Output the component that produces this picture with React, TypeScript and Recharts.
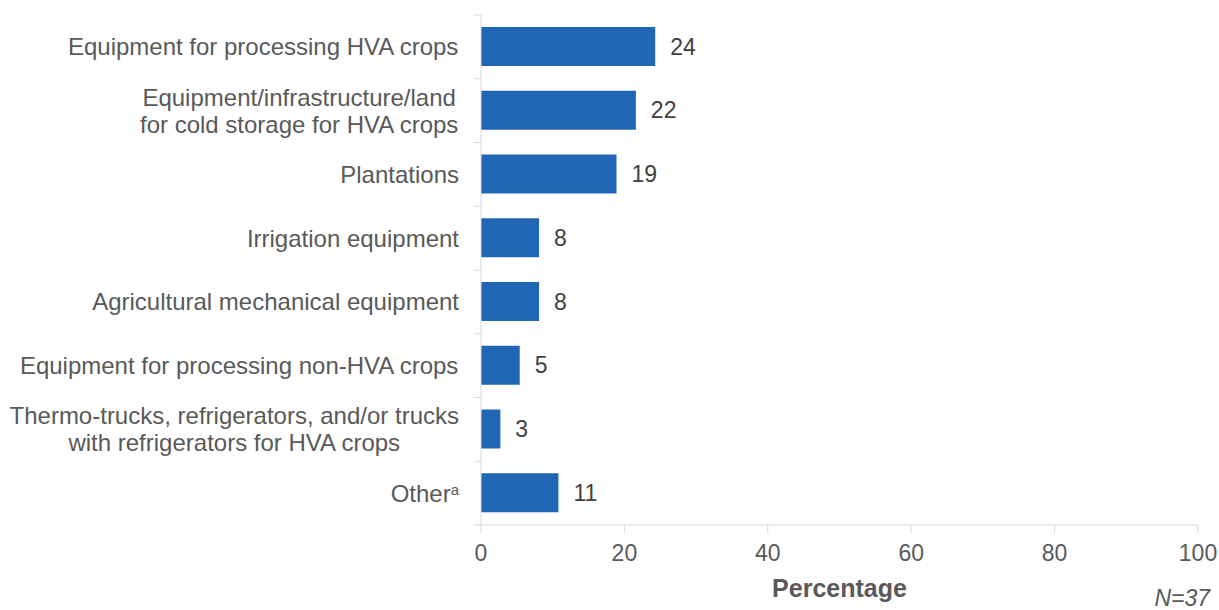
import React from "react";
import { BarChart, Bar, XAxis, YAxis, LabelList, Label } from "recharts";

const categories = [
  ["Equipment for processing HVA crops"],
  ["Equipment/infrastructure/land", "for cold storage for HVA crops"],
  ["Plantations"],
  ["Irrigation equipment"],
  ["Agricultural mechanical equipment"],
  ["Equipment for processing non-HVA crops"],
  ["Thermo-trucks, refrigerators, and/or trucks", "with refrigerators for HVA crops"],
  ["Other"],
];
const footnoteIdx = 7;
const percentages = [24.3, 21.6, 18.9, 8.1, 8.1, 5.4, 2.7, 10.8];
const xTicks = [0, 20, 40, 60, 80, 100];

const FONT = '"Liberation Sans", Arial, sans-serif';
const TEXT = "#595959";
const AXIS = "#d9d9d9";
const BAR = "#2166b4";
const FS = 23;
const CAT_FS = 24;

const W = 1219;
const H = 610;
const TOP = 15;
const PLOT_LEFT = 481;
const PLOT_BOTTOM = 525;
const BAND = (PLOT_BOTTOM - TOP) / categories.length;

let ctx: CanvasRenderingContext2D | null = null;
function textWidth(s: string): number {
  if (!ctx) ctx = document.createElement("canvas").getContext("2d");
  if (!ctx) return s.length * CAT_FS * 0.5;
  ctx.font = `${CAT_FS}px "Liberation Sans"`;
  return ctx.measureText(s).width;
}

const data = categories.map((_, i) => ({
  name: String(i),
  value: percentages[i],
}));

function CategoryTick(props: any) {
  const { y, payload, index } = props;
  const i = Number(payload.value);
  const lines = categories[i];
  const right = PLOT_LEFT - 22; // right edge of text block
  const blockW = Math.max(...lines.map(textWidth));
  const cx = right - blockW / 2;
  const lineH = 27;
  const cap = CAT_FS * 0.355;
  return (
    <g>
      <line x1={PLOT_LEFT - 7} x2={PLOT_LEFT} y1={y - BAND / 2} y2={y - BAND / 2} stroke={AXIS} />
      {index === categories.length - 1 && (
        <line x1={PLOT_LEFT - 7} x2={PLOT_LEFT} y1={y + BAND / 2} y2={y + BAND / 2} stroke={AXIS} />
      )}
      {lines.map((l, k) => {
        const by = y + cap + (k - (lines.length - 1) / 2) * lineH;
        if (i === footnoteIdx) {
          return (
            <text key={k} x={right} y={by} textAnchor="end" fill={TEXT} fontSize={CAT_FS} fontFamily={FONT}>
              {l}
              <tspan fontSize={15} dy={-7}>a</tspan>
            </text>
          );
        }
        return (
          <text key={k} x={cx} y={by} textAnchor="middle" fill={TEXT} fontSize={CAT_FS} fontFamily={FONT}>
            {l}
          </text>
        );
      })}
    </g>
  );
}

export default function App() {
  return (
    <div style={{ position: "absolute", left: 0, top: 0, width: W, height: H, background: "#fff" }}>
      <BarChart
        width={W}
        height={H}
        data={data}
        layout="vertical"
        margin={{ top: TOP, right: 21, left: 0, bottom: 0 }}
        barSize={39}
      >
        <XAxis
          type="number"
          domain={[0, 100]}
          ticks={xTicks}
          height={85}
          axisLine={{ stroke: AXIS }}
          tickLine={{ stroke: AXIS }}
          tickSize={8}
          tickMargin={12}
          tick={{ fill: TEXT, fontSize: FS, fontFamily: FONT }}
          interval={0}
        >
          <Label
            value="Percentage"
            position="insideBottom"
            offset={13}
            fill={TEXT}
            fontSize={25}
            fontWeight="bold"
            fontFamily={FONT}
          />
        </XAxis>
        <YAxis
          type="category"
          dataKey="name"
          width={PLOT_LEFT}
          axisLine={{ stroke: AXIS }}
          tickLine={false}
          tickSize={0}
          tickMargin={0}
          interval={0}
          tick={(p: any) => <CategoryTick {...p} />}
        />
        <Bar dataKey="value" fill={BAR} isAnimationActive={false}>
          <LabelList
            dataKey="value"
            position="right"
            offset={15}
            formatter={(v: any) => Math.round(Number(v))}
            fill="#404040"
            fontSize={FS}
            fontFamily={FONT}
          />
        </Bar>
      </BarChart>
      <div
        style={{
          position: "absolute",
          right: 9,
          top: 586,
          fontFamily: FONT,
          fontSize: FS,
          fontStyle: "italic",
          color: TEXT,
          lineHeight: "24px",
        }}
      >
        N=37
      </div>
    </div>
  );
}
